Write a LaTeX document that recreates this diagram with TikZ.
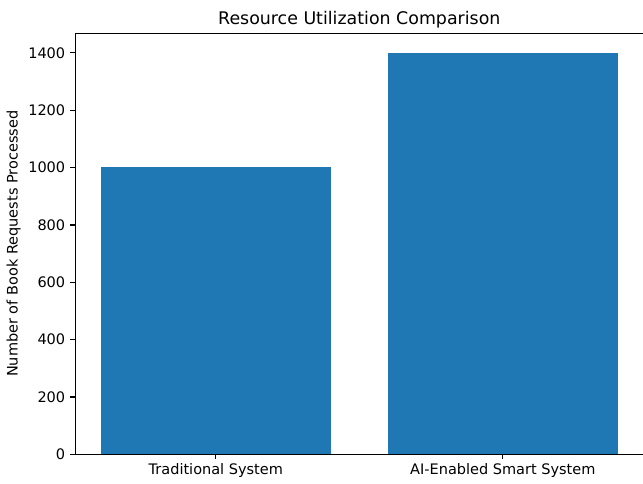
\documentclass[tikz,border=0pt]{standalone}
\usepackage{fontspec}
\setmainfont{DejaVu Sans}
\definecolor{barblue}{HTML}{1F77B4}
\begin{document}
\begin{tikzpicture}[x=1pt,y=-1pt,
  tick/.style={line width=1.1pt},
  ticklab/.style={font=\fontsize{14.5}{17}\selectfont, inner sep=0pt},
  bar/.style={fill=barblue, draw=none}]
\useasboundingbox (0,0) rectangle (643,483);
% bars (0 at y=454.4, 1 unit = 0.2868 px)
\fill[barblue] (101,454.4) rectangle (330.6,167.0);
\fill[barblue] (388,454.4) rectangle (617.6,53.0);
% axes frame
\draw[line width=1.1pt] (75.2,33.2) rectangle (643.5,454.4);
% y ticks
\foreach \v in {0,200,400,600,800,1000,1200,1400}{
  \pgfmathsetmacro{\yy}{454.4-0.2868*\v}
  \draw[tick] (75.2,\yy) -- (70.3,\yy);
  \node[ticklab, anchor=east] (yl\v) at (65.4,\yy) {\v};
}
% x ticks
\draw[tick] (215.8,454.4) -- (215.8,459.3);
\draw[tick] (502.8,454.4) -- (502.8,459.3);
\node[ticklab, anchor=north] (xl1) at (215.8,463.3) {Traditional System};
\node[ticklab, anchor=north] (xl2) at (502.8,463.3) {AI-Enabled Smart System};
% title
\node[font=\fontsize{17.4}{20}\selectfont, inner sep=0pt, anchor=base] (title) at (359.3,24.5) {Resource Utilization Comparison};
% y label
\node[font=\fontsize{14.5}{17}\selectfont, inner sep=0pt, rotate=90, anchor=north] (ylab) at (6.5,243.8) {Number of Book Requests Processed};
\end{tikzpicture}
\end{document}
